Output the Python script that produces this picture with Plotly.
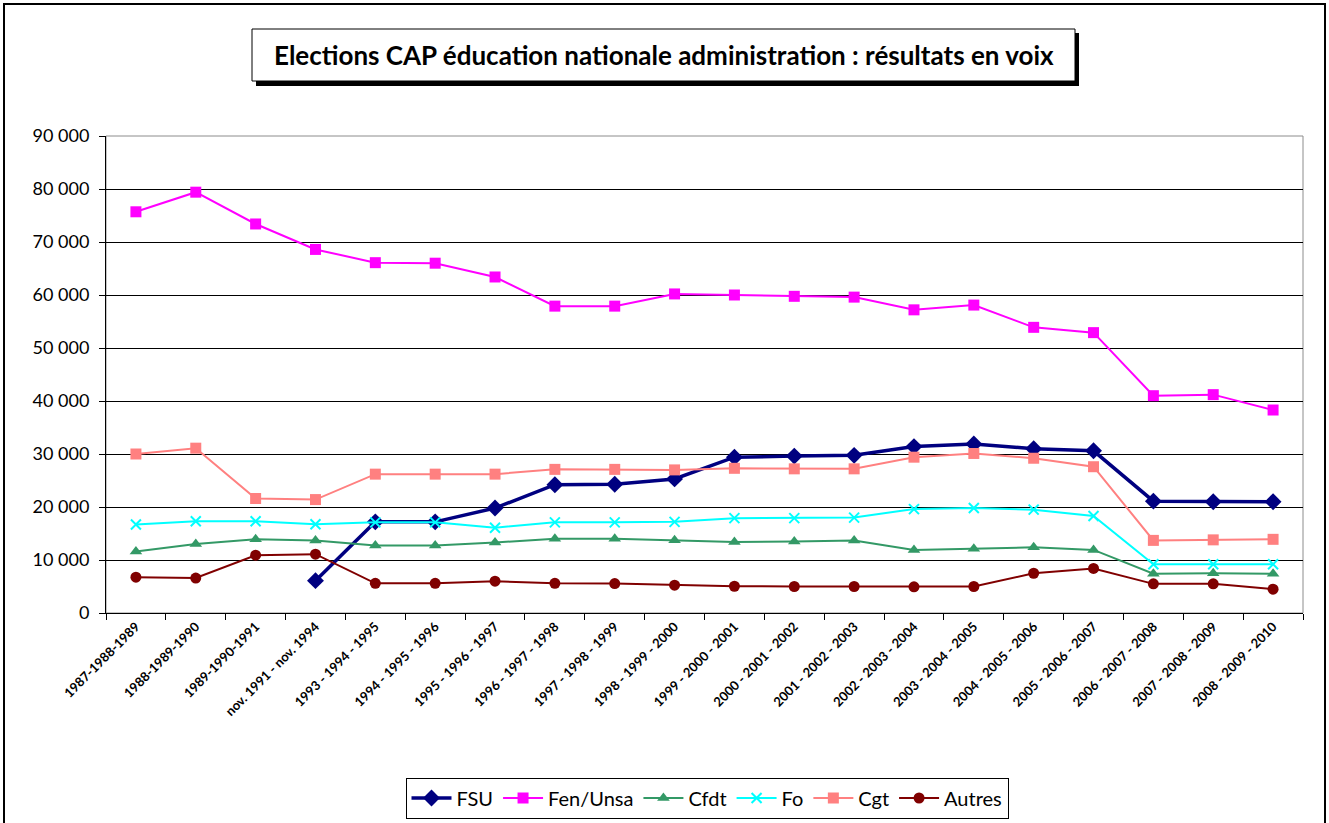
import plotly.graph_objects as go

categories = [
    "1987-1988-1989", "1988-1989-1990", "1989-1990-1991", "nov. 1991 - nov. 1994",
    "1993 - 1994 - 1995", "1994 - 1995 - 1996", "1995 - 1996 - 1997", "1996 - 1997 - 1998",
    "1997 - 1998 - 1999", "1998 - 1999 - 2000", "1999 - 2000 - 2001", "2000 - 2001 - 2002",
    "2001 - 2002 - 2003", "2002 - 2003 - 2004", "2003 - 2004 - 2005", "2004 - 2005 - 2006",
    "2005 - 2006 - 2007", "2006 - 2007 - 2008", "2007 - 2008 - 2009", "2008 - 2009 - 2010",
]

fsu = [None, None, None, 6100, 17200, 17200, 19800, 24200, 24300, 25300,
       29400, 29600, 29750, 31400, 31900, 31000, 30600, 21100, 21000, 21000]
fen_unsa = [75700, 79400, 73400, 68600, 66100, 66000, 63400, 57900, 57900, 60200,
            60000, 59750, 59600, 57200, 58100, 53900, 52900, 41000, 41200, 38300]
cfdt = [11600, 13000, 13900, 13700, 12750, 12750, 13300, 14000, 14000, 13750,
        13400, 13500, 13700, 11900, 12100, 12400, 11900, 7400, 7500, 7400]
fo = [16700, 17300, 17300, 16750, 17100, 17100, 16100, 17100, 17100, 17200,
      17900, 17900, 18000, 19600, 19800, 19500, 18300, 9200, 9200, 9200]
cgt = [30000, 31100, 21600, 21400, 26200, 26200, 26200, 27100, 27100, 27000,
       27300, 27200, 27200, 29400, 30100, 29200, 27600, 13700, 13800, 13900]
autres = [6750, 6600, 10900, 11100, 5600, 5600, 6000, 5600, 5550, 5250,
          5050, 5000, 5000, 4950, 5000, 7500, 8400, 5500, 5500, 4500]

W, H = 1329, 823
L, R, T, B = 106, 1303, 136, 613

def px(x):
    return (x - L) / (R - L)

def py(y):
    return (B - y) / (B - T)

FONT = "Lato, 'Open Sans', sans-serif"

fig = go.Figure()

series = [
    ("FSU", fsu, "#000080", "diamond", 13, 3.5),
    ("Fen/Unsa", fen_unsa, "#FF00FF", "square", 11, 2),
    ("Cfdt", cfdt, "#339966", "triangle-up", 11, 2),
    ("Fo", fo, "#00FFFF", "x-thin", 10, 2),
    ("Cgt", cgt, "#FF8080", "square", 11, 2),
    ("Autres", autres, "#800000", "circle", 11, 2),
]
for name, vals, color, sym, size, lw in series:
    fig.add_trace(go.Scatter(
        x=categories, y=vals, name=name, mode="lines+markers",
        line=dict(color=color, width=lw),
        marker=dict(symbol=sym, size=size, color=color,
                    line=dict(color=color, width=2 if sym == "x-thin" else 0)),
        connectgaps=False,
    ))

shapes = [
    # outer chart border
    dict(type="rect", xref="paper", yref="paper",
         x0=px(4), x1=px(1325), y0=py(900), y1=py(4),
         line=dict(color="black", width=2), layer="below"),
    # plot area frame (gray)
    dict(type="rect", xref="paper", yref="paper",
         x0=0, x1=1, y0=0, y1=1,
         line=dict(color="#8c8c8c", width=1), layer="below"),
    # title shadow
    dict(type="rect", xref="paper", yref="paper",
         x0=px(256), x1=px(1079), y0=py(86), y1=py(33),
         fillcolor="black", line=dict(color="black", width=0)),
    # title box
    dict(type="rect", xref="paper", yref="paper",
         x0=px(252), x1=px(1075), y0=py(81), y1=py(29),
         fillcolor="white", line=dict(color="black", width=1)),
]

fig.update_layout(
    width=W, height=H,
    margin=dict(l=L, r=W - R, t=T, b=H - B, pad=0, autoexpand=False),
    paper_bgcolor="white", plot_bgcolor="white",
    separators=", ",
    font=dict(family=FONT, color="black"),
    showlegend=True,
    legend=dict(orientation="h", x=px(707), y=py(798), xanchor="center", yanchor="middle",
                bordercolor="black", borderwidth=1, bgcolor="white",
                itemwidth=40,
                font=dict(size=20, family=FONT), tracegroupgap=0),
    shapes=shapes,
    annotations=[dict(
        text="<b>Elections CAP éducation nationale administration : résultats en voix</b>",
        xref="paper", yref="paper", x=px(664), y=py(55),
        xanchor="center", yanchor="middle", showarrow=False,
        font=dict(size=26, family=FONT, color="black"),
    )],
    xaxis=dict(
        type="category", tickangle=-45, tickson="boundaries",
        ticks="outside", ticklen=6, tickcolor="black",
        showline=True, linecolor="black", linewidth=1,
        showgrid=False, zeroline=False, automargin=False,
        tickfont=dict(size=13, family=FONT, color="black", weight="bold"),
        range=[-0.5, len(categories) - 0.5],
    ),
    yaxis=dict(
        range=[0, 90000], dtick=10000, tickformat=",d",
        ticks="outside", ticklen=6, tickcolor="black",
        showline=True, linecolor="black", linewidth=1,
        showgrid=True, gridcolor="black", gridwidth=1,
        zeroline=False, ticklabelstandoff=6, automargin=False,
        tickfont=dict(size=18, family=FONT, color="black"),
    ),
)

fig.write_html("out.html", config={"displayModeBar": False},
               post_script="document.body.style.margin='0px';")
